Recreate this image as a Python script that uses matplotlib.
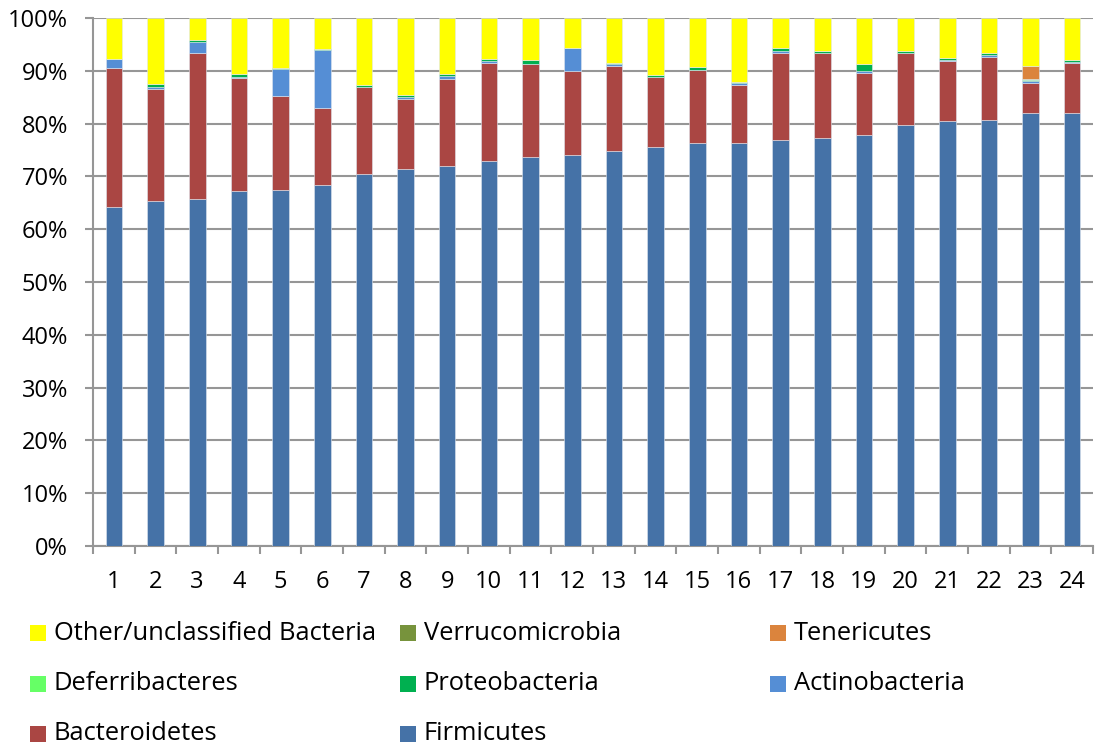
import matplotlib
matplotlib.use("Agg")
import matplotlib.pyplot as plt
import numpy as np
from matplotlib.patches import Rectangle

plt.rcParams["font.family"] = ["Open Sans", "DejaVu Sans"]

samples = [str(i) for i in range(1, 25)]

firmicutes = [64.2, 65.4, 65.8, 67.3, 67.4, 68.3, 70.4, 71.4, 71.9, 72.9, 73.6, 74.0,
              74.9, 75.5, 76.3, 76.3, 76.9, 77.2, 77.8, 79.7, 80.4, 80.6, 82.1, 82.1]
bacteroidetes = [26.3, 21.1, 27.6, 21.3, 17.8, 14.6, 16.5, 13.3, 16.5, 18.5, 17.7, 15.9,
                 16.1, 13.4, 13.9, 11.1, 16.5, 16.2, 11.8, 13.7, 11.4, 12.1, 5.6, 9.4]
actinobacteria = [1.7, 0.5, 2.1, 0.2, 5.2, 11.0, 0.0, 0.3, 0.7, 0.5, 0.0, 4.4,
                  0.2, 0.0, 0.0, 0.2, 0.4, 0.0, 0.3, 0.0, 0.3, 0.2, 0.3, 0.2]
proteobacteria = [0.1, 0.5, 0.4, 0.5, 0.2, 0.3, 0.4, 0.4, 0.3, 0.4, 0.8, 0.1,
                  0.3, 0.3, 0.6, 0.3, 0.6, 0.4, 1.3, 0.4, 0.4, 0.4, 0.3, 0.4]
deferribacteres = [0.0] * 22 + [0.1, 0.0]
tenericutes = [0.0] * 22 + [2.6, 0.0]
verrucomicrobia = [0.0] * 24
other = [7.7, 12.5, 4.1, 10.7, 9.4, 5.8, 12.7, 14.6, 10.6, 7.7, 7.9, 5.6,
         8.5, 10.8, 9.2, 12.1, 5.6, 6.2, 8.8, 6.2, 7.5, 6.7, 9.0, 7.9]

# bottom -> top stacking order
series = [
    ("Firmicutes", firmicutes, "#4572A7"),
    ("Bacteroidetes", bacteroidetes, "#AA4643"),
    ("Actinobacteria", actinobacteria, "#558ED5"),
    ("Proteobacteria", proteobacteria, "#00B050"),
    ("Deferribacteres", deferribacteres, "#66FF66"),
    ("Tenericutes", tenericutes, "#DB843D"),
    ("Verrucomicrobia", verrucomicrobia, "#77933C"),
    ("Other/unclassified Bacteria", other, "#FFFF00"),
]

W, H = 1101, 751
FS = 17
fig = plt.figure(figsize=(W / 100, H / 100), dpi=100)
ax = fig.add_axes([93 / W, 1 - 546 / H, (1093 - 93) / W, (546 - 18) / H])

x = np.arange(len(samples))
bottom = np.zeros(len(samples))
for name, vals, color in series:
    v = np.array(vals)
    ax.bar(x, v, width=0.4, bottom=bottom, color=color, edgecolor="#dfe6ef",
           linewidth=0.4, zorder=3)
    bottom += v

grid_c = "#969696"
ax.set_xlim(-0.5, len(samples) - 0.5)
ax.set_ylim(0, 100)
ax.set_yticks(np.arange(0, 101, 10))
ax.set_yticklabels([f"{t}%" for t in range(0, 101, 10)])
ax.yaxis.grid(True, color=grid_c, linewidth=1.5, zorder=0)
ax.set_axisbelow(True)

ax.set_xticks(x)
ax.set_xticklabels(samples)
ax.set_xticks(np.arange(-0.5, len(samples), 1), minor=True)
ax.tick_params(axis="x", which="major", length=0, pad=17, labelsize=FS)
ax.tick_params(axis="x", which="minor", length=6, width=1.5, color=grid_c, direction="out")
ax.tick_params(axis="y", length=6, width=1.5, color=grid_c, pad=12, labelsize=FS)

for s in ["top", "right"]:
    ax.spines[s].set_visible(False)
for s in ["left", "bottom"]:
    ax.spines[s].set_color(grid_c)
    ax.spines[s].set_linewidth(1.5)

# legend laid out like the spreadsheet one: 3 columns, read row by row
legend_order = ["Other/unclassified Bacteria", "Verrucomicrobia", "Tenericutes",
                "Deferribacteres", "Proteobacteria", "Actinobacteria",
                "Bacteroidetes", "Firmicutes"]
colors = {name: c for name, _, c in series}
col_x = [30, 400, 770]
row_y = [633, 684, 734]
for i, name in enumerate(legend_order):
    cx = col_x[i % 3]
    cy = row_y[i // 3]
    fig.add_artist(Rectangle((cx / W, 1 - (cy + 8) / H), 16 / W, 16 / H,
                             transform=fig.transFigure, facecolor=colors[name],
                             edgecolor="none"))
    fig.text((cx + 24) / W, 1 - cy / H, name, fontsize=18.4, va="center", ha="left")

fig.savefig("out.png", dpi=100)
